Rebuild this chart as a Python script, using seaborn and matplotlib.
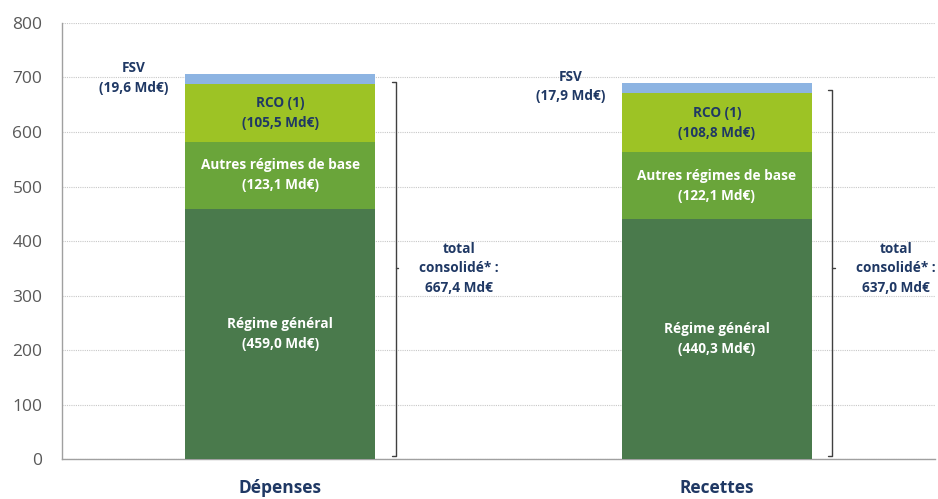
import pandas as pd
import numpy as np
import matplotlib
matplotlib.use("Agg")
import matplotlib.pyplot as plt
import seaborn as sns

categories = ["Dépenses", "Recettes"]
regime_general = [459.0, 440.3]
autres_regimes = [123.1, 122.1]
rco = [105.5, 108.8]
fsv = [19.6, 17.9]
totals_consolides = ["667,4", "637,0"]

segment_names = ["Régime général", "Autres régimes de base", "RCO (1)", "FSV"]
segment_values = [regime_general, autres_regimes, rco, fsv]
segment_colors = ["#4a7a4c", "#6aa53a", "#9dc325", "#8db4e2"]

navy = "#1f3864"
grey = "#595959"


def fmt(v):
    return f"{v:.1f}".replace(".", ",")


def main():
    sns.set_style("white")
    plt.rcParams["font.family"] = ["Open Sans", "DejaVu Sans"]

    fig = plt.figure(figsize=(9.38, 4.99), dpi=100)
    ax = fig.add_axes([0.066, 0.080, 0.931, 0.874])

    cum = np.cumsum(np.array(segment_values), axis=0)
    # draw from the tallest stack down so lower segments cover upper ones
    for i in range(len(segment_names) - 1, -1, -1):
        df = pd.DataFrame({"cat": categories, "val": cum[i]})
        sns.barplot(data=df, x="cat", y="val", color=segment_colors[i],
                    width=0.436, saturation=1, ax=ax, zorder=3,
                    edgecolor="none", linewidth=0)

    fs = 9.8
    for j, cat in enumerate(categories):
        bottoms = np.concatenate([[0], cum[:, j]])
        for i, name in enumerate(segment_names[:3]):
            mid = (bottoms[i] + bottoms[i + 1]) / 2
            col = navy if i == 2 else "white"
            ax.text(j, mid, f"{name}\n({fmt(segment_values[i][j])} Md€)",
                    ha="center", va="center", color=col, fontsize=fs,
                    fontweight="bold", linespacing=1.55, zorder=5)
        # FSV label on the left of the bar
        ax.text(j - 0.335, cum[3, j] - 8 + 2 * j, f"FSV\n({fmt(fsv[j])} Md€)",
                ha="center", va="center", color=navy, fontsize=fs,
                fontweight="bold", linespacing=1.5, zorder=5)
        # bracket for consolidated total
        bx = j + 0.264
        top = cum[2, j] + 5
        bot = 5
        ax.plot([bx - 0.009, bx, bx, bx - 0.009], [top, top, bot, bot],
                color="#404040", lw=1, zorder=4)
        ax.plot([bx, bx + 0.006], [350, 350], color="#404040", lw=1, zorder=4)
        ax.text(j + 0.41, 350, f"total\nconsolidé* :\n{totals_consolides[j]} Md€",
                ha="center", va="center", color=navy, fontsize=fs,
                fontweight="bold", linespacing=1.5, zorder=5)

    ax.set_xlim(-0.5, 1.5)
    ax.set_ylim(0, 800)
    ax.set_yticks(np.arange(0, 801, 100))
    ax.yaxis.grid(True, linestyle=(0, (1, 1)), color="#c8c8c8", lw=0.8, zorder=0)
    ax.set_axisbelow(True)
    ax.set_xlabel("")
    ax.set_ylabel("")

    ax.set_xticks([0, 1])
    ax.set_xticklabels(categories, fontsize=12.5, fontweight="bold", color=navy)
    ax.set_xticks([-0.5, 0.5, 1.5], minor=True)
    ax.tick_params(axis="x", which="major", length=0, pad=14)
    ax.tick_params(axis="x", which="minor", length=6, color="#a0a0a0", width=1)
    ax.tick_params(axis="y", length=5, color="#a0a0a0", labelsize=12.5,
                   labelcolor=grey, pad=9)

    for s in ["top", "right"]:
        ax.spines[s].set_visible(False)
    for s in ["left", "bottom"]:
        ax.spines[s].set_color("#a0a0a0")
        ax.spines[s].set_linewidth(1)

    fig.savefig("out.png", dpi=100)


if __name__ == "__main__":
    main()
